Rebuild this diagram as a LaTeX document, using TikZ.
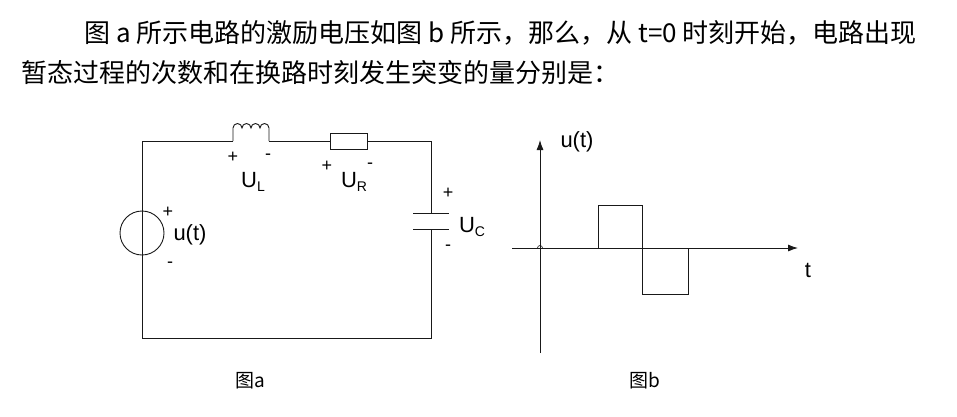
\documentclass[tikz,border=0pt]{standalone}
\usepackage{fontspec}
\setmainfont{Liberation Sans}
\newfontfamily\cjk{Noto Sans CJK SC}
\usetikzlibrary{arrows.meta}
\definecolor{wireblack}{RGB}{25,25,25}

\begin{document}
\begin{tikzpicture}[x=1pt,y=-1pt,line width=0.9pt,draw=wireblack,
  resbox/.style={draw, minimum width=37pt, minimum height=16pt, inner sep=0pt},
  srccirc/.style={draw, circle, minimum size=44pt, inner sep=0pt},
  sign/.style={font=\fontsize{18}{18}\selectfont, inner sep=0pt},
  lbl/.style={font=\fontsize{22}{22}\selectfont, inner sep=0pt},
  axisarrow/.style={-{Latex[length=10pt,width=7pt]}}]
\useasboundingbox (0,0) rectangle (957,416);
% question text
\node[anchor=west, inner sep=0pt, font=\cjk\fontsize{26}{30}\selectfont] (line1) at (84,33) {图 a 所示电路的激励电压如图 b 所示，那么，从 t=0 时刻开始，电路出现};
\node[anchor=west, inner sep=0pt, font=\cjk\fontsize{26}{30}\selectfont] (line2) at (21,73) {暂态过程的次数和在换路时刻发生突变的量分别是：};

% circuit a
\coordinate (tl) at (142,141);
\coordinate (tr) at (431,141);
\coordinate (bl) at (142,338);
\coordinate (br) at (431,338);
\coordinate (Lin) at (233,141);
\coordinate (Lout) at (269,141);
\coordinate (Ctop) at (431,213);
\coordinate (Cbot) at (431,229);
\node[resbox] (res) at (348.5,141) {};
\draw (Lin) -- ++(0,-13) arc(180:360:4.5) arc(180:360:4.5) arc(180:360:4.5) arc(180:360:4.5) -- (Lout);
\draw (Lout) -- (res.west);
\draw (res.east) -- (tr) -- (Ctop);
\draw (Cbot) -- (br) -- (bl) -- (tl) -- (Lin);
\draw ([xshift=-18pt]Ctop) -- ([xshift=18pt]Ctop);
\draw ([xshift=-18pt]Cbot) -- ([xshift=18pt]Cbot);
\node[srccirc] (src) at (142,233) {};
\node[sign] (Lplus) at (233,157) {+};
\node[sign] (Lminus) at (268,157) {-};
\node[lbl] (UL) at (253,182) {U\raisebox{-0.4ex}{\fontsize{14}{14}\selectfont L}};
\node[sign] (Rplus) at (327,166) {+};
\node[lbl] (UR) at (354,182) {U\raisebox{-0.4ex}{\fontsize{14}{14}\selectfont R}};
\node[sign] (Rminus) at (370,166) {-};
\node[sign] (Cplus) at (448,193) {+};
\node[lbl] (UC) at (472,227) {U\raisebox{-0.4ex}{\fontsize{14}{14}\selectfont C}};
\node[sign] (Cminus) at (448,248) {-};
\node[sign] (Splus) at (168,212) {+};
\node[lbl] (ut) at (190,235) {u(t)};
\node[sign] (Sminus) at (170,265) {-};
\node[font=\cjk\fontsize{19}{19}\selectfont, inner sep=0pt] (capa) at (250,381) {图a};

% graph b
\coordinate (yb) at (540,353);
\coordinate (yt) at (540,140);
\coordinate (xl) at (512,248);
\coordinate (xr) at (798,248);
\draw[axisarrow] (yb) -- (yt);
\draw[axisarrow] (xl) -- (xr);
\draw[line width=0.6pt] (537.5,248) arc(180:360:2.5);
\draw (598,248) -- (598,205) -- (642,205) -- (642,294) -- (688,294) -- (688,248);
\node[lbl] (uaxis) at (577,142) {u(t)};
\node[lbl] (taxis) at (808,270) {t};
\node[font=\cjk\fontsize{19}{19}\selectfont, inner sep=0pt] (capb) at (645,381) {图b};
\end{tikzpicture}
\end{document}
